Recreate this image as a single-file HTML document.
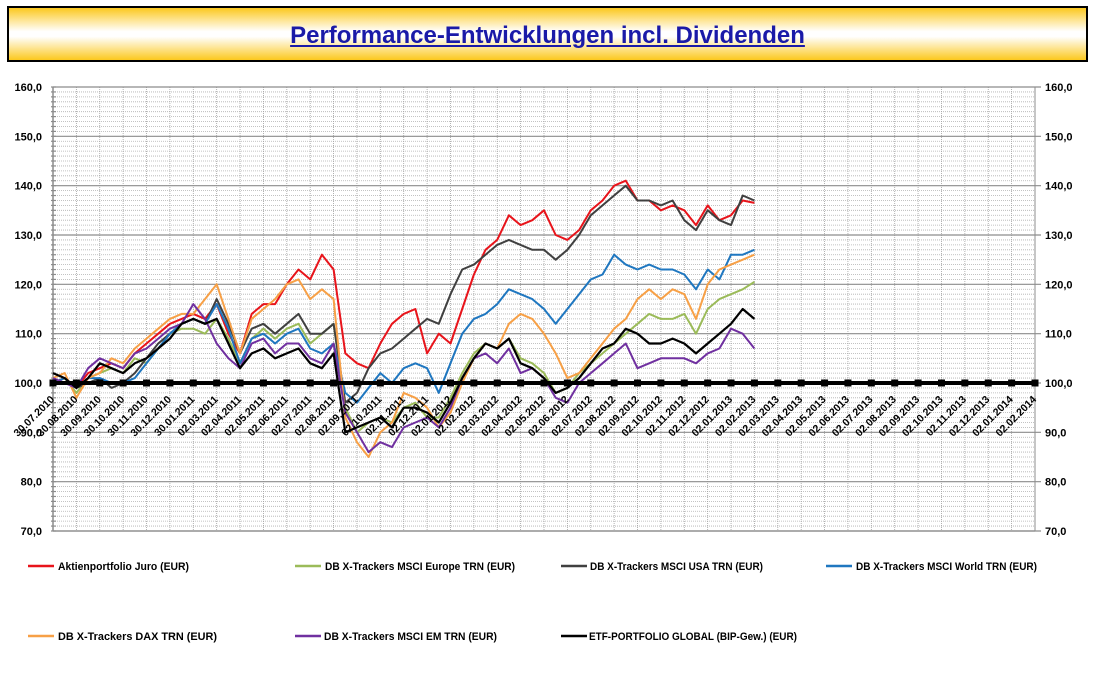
<!DOCTYPE html>
<html><head><meta charset="utf-8"><style>
html,body{margin:0;padding:0;background:#fff;width:1096px;height:686px;overflow:hidden;font-family:"Liberation Sans",sans-serif}
#title{position:absolute;left:7px;top:6px;width:1077px;height:52px;border:2px solid #000;background:linear-gradient(#fcc81e 0%,#fff 45%,#fff 55%,#fcc81e 100%);text-align:center;line-height:56px}
#title span{color:#1a1aa8;font-weight:bold;font-size:24px;text-decoration:underline}
svg{position:absolute;left:0;top:0}
</style></head><body>
<div id="title"><span>Performance-Entwicklungen incl. Dividenden</span></div>
<svg id="chart" width="1096" height="686"></svg>
<script>
const categories=["30.07.2010","30.08.2010","30.09.2010","30.10.2010","30.11.2010","30.12.2010","30.01.2011","02.03.2011","02.04.2011","02.05.2011","02.06.2011","02.07.2011","02.08.2011","02.09.2011","02.10.2011","02.11.2011","02.12.2011","02.01.2012","02.02.2012","02.03.2012","02.04.2012","02.05.2012","02.06.2012","02.07.2012","02.08.2012","02.09.2012","02.10.2012","02.11.2012","02.12.2012","02.01.2013","02.02.2013","02.03.2013","02.04.2013","02.05.2013","02.06.2013","02.07.2013","02.08.2013","02.09.2013","02.10.2013","02.11.2013","02.12.2013","02.01.2014","02.02.2014"];
const yTicks=[70,80,90,100,110,120,130,140,150,160];
const yTickLabels=["70,0","80,0","90,0","100,0","110,0","120,0","130,0","140,0","150,0","160,0"];
const seriesNames=["Aktienportfolio Juro (EUR)","DB X-Trackers MSCI Europe TRN (EUR)","DB X-Trackers MSCI USA TRN (EUR)","DB X-Trackers MSCI World TRN (EUR)","DB X-Trackers DAX TRN (EUR)","DB X-Trackers  MSCI EM TRN (EUR)","ETF-PORTFOLIO GLOBAL (BIP-Gew.) (EUR)"];
const juro=[100,101,99,102,103,104,103,106,108,110,112,113,114,113,116,110,106,114,116,116,120,123,121,126,123,106,104,103,108,112,114,115,106,110,108,115,122,127,129,134,132,133,135,130,129,131,135,137,140,141,137,137,135,136,135,132,136,133,134,137,136.5];
const europe=[100,101,98,101,102,103,102,105,104,107,110,111,111,110,113,109,104,109,111,109,111,112,108,110,112,95,90,92,93,92,95,96,93,93,97,102,106,108,107,109,105,104,102,98,99,102,104,106,108,110,112,114,113,113,114,110,115,117,118,119,120.5];
const usa=[100,101,99,100,101,99,100,102,105,108,110,112,113,112,117,112,106,111,112,110,112,114,110,110,112,96,98,103,106,107,109,111,113,112,118,123,124,126,128,129,128,127,127,125,127,130,134,136,138,140,137,137,136,137,133,131,135,133,132,138,137];
const world=[100,101,99,101,101,100,100,101,104,107,110,112,113,112,116,111,104,109,110,108,110,111,107,106,108,98,96,99,102,100,103,104,103,98,104,110,113,114,116,119,118,117,115,112,115,118,121,122,126,124,123,124,123,123,122,119,123,121,126,126,127];
const dax=[101,102,97,101,102,105,104,107,109,111,113,114,114,117,120,113,106,113,115,117,120,121,117,119,117,93,88,85,90,92,98,97,95,91,94,100,105,108,107,112,114,113,110,106,101,102,105,108,111,113,117,119,117,119,118,113,120,123,124,125,126];
const em=[101,100,99,103,105,104,103,106,107,109,111,112,116,113,108,105,103,108,109,106,108,108,105,104,108,94,90,86,88,87,91,92,93,91,95,101,105,106,104,107,102,103,101,97,96,100,102,104,106,108,103,104,105,105,105,104,106,107,111,110,107];
const etf=[102,101,99,101,104,103,102,104,105,107,109,112,113,112,113,108,103,106,107,105,106,107,104,103,106,90,91,92,93,91,95,95,94,92,96,101,105,108,107,109,104,103,101,98,99,101,104,107,108,111,110,108,108,109,108,106,108,110,112,115,113];
const baseline=100;
const colors=["#e8141b","#9bbb59","#404040","#1f77c0","#f7a046","#7030a0","#000000"];
const allSeries=[juro,europe,usa,world,dax,em,etf];

const svg=document.getElementById('chart');
const NS="http://www.w3.org/2000/svg";
const L=53,R=1035,T=87,B=531,YMIN=70,YMAX=160;
const step=(R-L)/(categories.length-1);
function xs(t){return L+t*step;}
function ys(v){return B-(v-YMIN)/(YMAX-YMIN)*(B-T);}
function mk(tag,attrs,parent){const e=document.createElementNS(NS,tag);for(const k in attrs)e.setAttribute(k,attrs[k]);(parent||svg).appendChild(e);return e;}

// minor horizontal dotted grid
for(let v=YMIN+1;v<YMAX;v++){if(v%10===0)continue;
 const g=mk('line',{x1:L,x2:R,y1:ys(v),y2:ys(v),stroke:'#b0b0b0','stroke-width':0.8,'stroke-dasharray':'1,1'});
 
 }
// vertical dotted grid
categories.forEach((c,i)=>{const g=mk('line',{x1:xs(i),x2:xs(i),y1:T,y2:B,stroke:'#a0a0a0','stroke-width':0.8,'stroke-dasharray':'1,1'});
 
 });
// major grid + labels
yTicks.forEach((v,i)=>{const g=mk('line',{x1:L,x2:R+6,y1:ys(v),y2:ys(v),stroke:'#8c8c8c','stroke-width':1.2});
 
 
 const t1=mk('text',{x:42,y:ys(v)+4,'text-anchor':'end','font-size':11,'font-weight':'bold',fill:'#000'});t1.textContent=yTickLabels[i];
 
 
 const t2=mk('text',{x:1045,y:ys(v)+4,'font-size':11,'font-weight':'bold',fill:'#000'});t2.textContent=yTickLabels[i];
 
 });
// left axis with minor ticks
const ax=mk('line',{x1:L,x2:L,y1:T,y2:B,stroke:'#8c8c8c','stroke-width':1.5});


for(let v=YMIN;v<=YMAX;v++){const tk=mk('line',{x1:L-2,x2:L+3,y1:ys(v),y2:ys(v),stroke:'#8c8c8c','stroke-width':1.2});
 
 }
const rx=mk('line',{x1:R,x2:R,y1:T,y2:B,stroke:'#8c8c8c','stroke-width':1});


// series
allSeries.forEach((s,k)=>{const pts=s.map((v,i)=>xs(i*0.5).toFixed(1)+','+ys(v).toFixed(1)).join(' ');
 const p=mk('polyline',{points:pts,fill:'none',stroke:colors[k],'stroke-width':k===6?2.2:2,'stroke-linejoin':'round'});
 
 });
// baseline 100 with markers
const bl=mk('line',{x1:L,x2:R,y1:ys(baseline),y2:ys(baseline),stroke:'#000','stroke-width':4});


categories.forEach((c,i)=>{const m=mk('rect',{x:xs(i)-3.5,y:ys(baseline)-3.5,width:7,height:7,fill:'#000'});
 
 });
// x labels
categories.forEach((c,i)=>{const x=xs(i)+2,y=400;
 const t=mk('text',{x:x,y:y,'text-anchor':'end','font-size':10.5,'font-weight':'bold',fill:'#000',transform:`rotate(-45 ${x} ${y})`});
 t.textContent=c;
 
 });
// bottom axis
const bx=mk('line',{x1:L,x2:R,y1:B,y2:B,stroke:'#8c8c8c','stroke-width':1.2});


// legend
const legPos=[[28,58,566,131],[295,325,566,190],[561,590,566,173],[826,856,566,181],[28,58,636,159],[295,324,636,173],[561,589,636,208]];
legPos.forEach((p,k)=>{const g=mk('g',{});
 
 
 mk('line',{x1:p[0],x2:p[0]+26,y1:p[2],y2:p[2],stroke:colors[k],'stroke-width':2.5},g);
 const t=mk('text',{x:p[1],y:p[2]+4,'font-size':11,'font-weight':'bold',fill:'#000',textLength:p[3],lengthAdjust:'spacingAndGlyphs'},g);
 t.textContent=seriesNames[k];
 
 });
</script>
</body></html>
